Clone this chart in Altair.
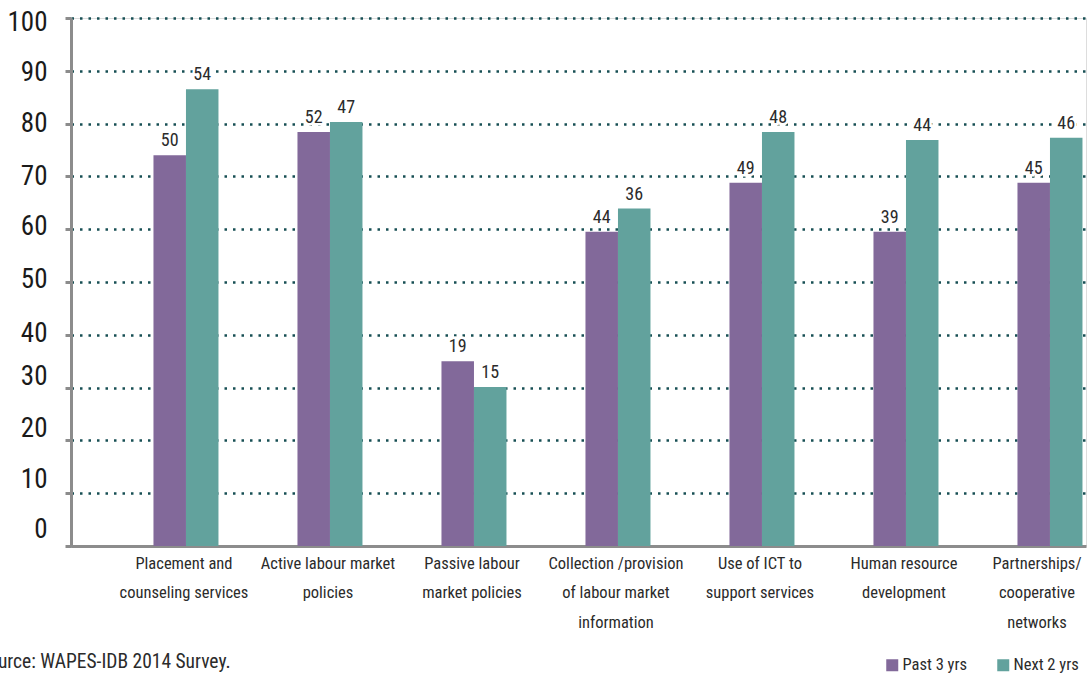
import altair as alt
import pandas as pd

categories = [
    "Placement and|counseling services",
    "Active labour market|policies",
    "Passive labour|market policies",
    "Collection /provision|of labour market|information",
    "Use of ICT to|support services",
    "Human resource|development",
    "Partnerships/|cooperative|networks",
]
series = ["Past 3 yrs", "Next 2 yrs"]
past_pct = [74.0, 78.4, 35.0, 59.5, 68.8, 59.5, 68.8]
next_pct = [86.5, 80.3, 30.1, 63.9, 78.4, 76.9, 77.3]
past_n = [50, 52, 19, 44, 49, 39, 45]
next_n = [54, 47, 15, 36, 48, 44, 46]
y_ticks = [0, 10, 20, 30, 40, 50, 60, 70, 80, 90, 100]
source_note = "Source: WAPES-IDB 2014 Survey."

rows = []
for c, p, n, pn, nn in zip(categories, past_pct, next_pct, past_n, next_n):
    rows.append({"cat": c, "series": series[0], "pct": p, "count": pn})
    rows.append({"cat": c, "series": series[1], "pct": n, "count": nn})
df = pd.DataFrame(rows)

FONT = "Liberation Sans Narrow, Roboto Condensed, DejaVu Sans Condensed, sans-serif"
PURPLE = "#82699a"
TEAL = "#62a29d"

label_shift = {0: -17, 10: -14, 20: -12, 30: -11, 40: -1, 50: -3, 60: -3, 70: 0, 80: 0, 90: 2, 100: 4}
offset_cond = [{"test": f"datum.value == {k}", "value": v} for k, v in label_shift.items()]

x_enc = alt.X(
    "cat:N",
    sort=categories,
    title=None,
    scale=alt.Scale(paddingInner=0.5486, paddingOuter=0.2986, align=0.959),
    axis=alt.Axis(
        labelExpr="split(datum.label, '|')",
        labelAngle=0,
        labelFont=FONT,
        labelFontSize=16.5,
        labelColor="#2b2b2b",
        labelLineHeight=29.5,
        labelPadding=9,
        labelBaseline="top",
        labelOffset={
            "condition": {"test": "indexof(datum.value, 'Partnerships') == 0", "value": -13},
            "value": -2,
        },
        ticks=False,
        domainColor="#8c8c8c",
        domainWidth=3,
        labelLimit=300,
    ),
)
xo_enc = alt.XOffset("series:N", sort=series, scale=alt.Scale(paddingInner=0, paddingOuter=0))
y_enc = alt.Y(
    "pct:Q",
    title=None,
    scale=alt.Scale(domain=[0, 100], nice=False),
    axis=alt.Axis(
        values=y_ticks,
        labelFont=FONT,
        labelFontSize=27,
        labelColor="#1a1a1a",
        labelPadding=18,
        labelOffset={"condition": offset_cond, "value": 0},
        tickSize=6,
        tickWidth=3,
        tickColor="#8c8c8c",
        domainColor="#8c8c8c",
        domainWidth=3,
        grid=True,
        gridColor="#174f54",
        gridDash=[2.5, 6],
        gridWidth=2.5,
    ),
)

base = alt.Chart(df)

bars = base.mark_bar(size=32.5).encode(
    x=x_enc,
    xOffset=xo_enc,
    y=y_enc,
    color=alt.Color(
        "series:N",
        sort=series,
        scale=alt.Scale(domain=series, range=[PURPLE, TEAL]),
        legend=alt.Legend(
            title=None,
            orient="none",
            legendX=813,
            legendY=639,
            direction="horizontal",
            symbolType="square",
            symbolSize=144,
            symbolStrokeWidth=0,
            labelFont=FONT,
            labelFontSize=16.5,
            labelColor="#2b2b2b",
            labelOffset=2,
            columnPadding=27,
            gridAlign="none",
            padding=0,
        ),
    ),
)

halo = base.mark_text(
    font=FONT, fontSize=18, dy=-5, baseline="bottom", stroke="white", strokeWidth=5, color="white"
).encode(x=alt.X("cat:N", sort=categories), xOffset=xo_enc, y="pct:Q", text="count:Q")

labels = base.mark_text(
    font=FONT, fontSize=18, dy=-5, baseline="bottom", color="#2b2b2b"
).encode(x=alt.X("cat:N", sort=categories), xOffset=xo_enc, y="pct:Q", text="count:Q")

note = alt.Chart(pd.DataFrame({"t": [source_note]})).mark_text(
    font=FONT, fontSize=19.5, align="left", baseline="middle", color="#2b2b2b"
).encode(x=alt.value(-93), y=alt.value(644), text="t:N")

chart = (
    alt.layer(bars, halo, labels, note)
    .properties(
        width=1015,
        height=528,
        padding={"left": 71, "top": 18, "right": 4, "bottom": 127},
        autosize=alt.AutoSizeParams(type="none"),
    )
    .configure_view(stroke=None)
    .configure(background="white")
)

chart.save("out.html", embed_options={"renderer": "svg", "actions": False})
